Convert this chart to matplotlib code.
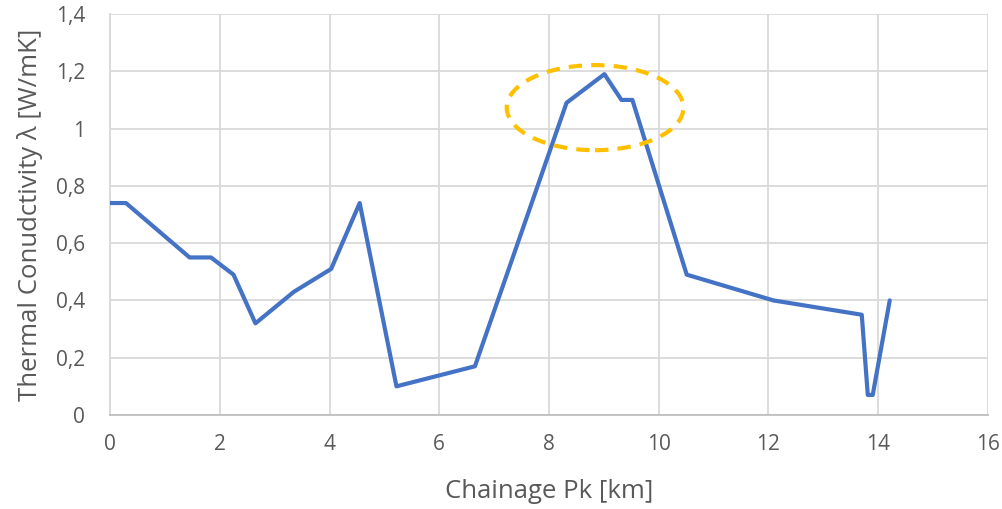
import matplotlib
matplotlib.use("Agg")
import matplotlib.pyplot as plt
from matplotlib.patches import Ellipse
from matplotlib.ticker import FuncFormatter

chainage_km = [0.0, 0.29, 1.45, 1.84, 2.25, 2.65, 3.35, 4.03, 4.55, 5.22, 6.65,
               8.32, 9.01, 9.32, 9.52, 10.51, 12.09, 13.70, 13.81, 13.90, 14.21]
conductivity = [0.74, 0.74, 0.55, 0.55, 0.49, 0.32, 0.43, 0.51, 0.74, 0.10, 0.17,
                1.09, 1.19, 1.10, 1.10, 0.49, 0.40, 0.35, 0.07, 0.07, 0.40]
x_ticks = [0, 2, 4, 6, 8, 10, 12, 14, 16]
y_ticks = [0, 0.2, 0.4, 0.6, 0.8, 1.0, 1.2, 1.4]

plt.rcParams['font.family'] = ['Open Sans', 'DejaVu Sans']

fig = plt.figure(figsize=(10.03, 5.09), dpi=100)
ax = fig.add_axes([0.1097, 0.1847, 0.8753, 0.7878])

ax.plot(chainage_km, conductivity, color='#4472C4', lw=3, solid_joinstyle='round',
        solid_capstyle='round', zorder=3)

ell = Ellipse((8.84, 1.073), 3.22, 0.297, fill=False, edgecolor='#FFC000', lw=3,
              linestyle=(0, (3.2, 2.2)), zorder=4)
ax.add_patch(ell)

ax.set_xlim(0, 16)
ax.set_ylim(0, 1.4)
ax.set_xticks(x_ticks)
ax.set_yticks(y_ticks)

def fmt(v, pos):
    s = ('%g' % round(v, 2))
    return s.replace('.', ',')

ax.xaxis.set_major_formatter(FuncFormatter(fmt))
ax.yaxis.set_major_formatter(FuncFormatter(fmt))

ax.grid(True, color='#D9D9D9', lw=1.3, zorder=0)
ax.set_axisbelow(True)
for s in ['top', 'right']:
    ax.spines[s].set_visible(False)
ax.spines['left'].set_color('#D9D9D9')
ax.spines['left'].set_linewidth(1.3)
ax.spines['bottom'].set_color('#BFBFBF')
ax.spines['bottom'].set_linewidth(1.3)
ax.tick_params(length=0, labelsize=15, colors='#595959')
ax.tick_params(axis='x', pad=14)
ax.tick_params(axis='y', pad=18)

ax.set_xlabel('Chainage Pk [km]', fontsize=18.5, color='#595959', labelpad=17)
ax.set_ylabel('Thermal Conudctivity λ [W/mK]', fontsize=18.5, color='#595959', labelpad=9)

fig.savefig('out.png', dpi=100)
